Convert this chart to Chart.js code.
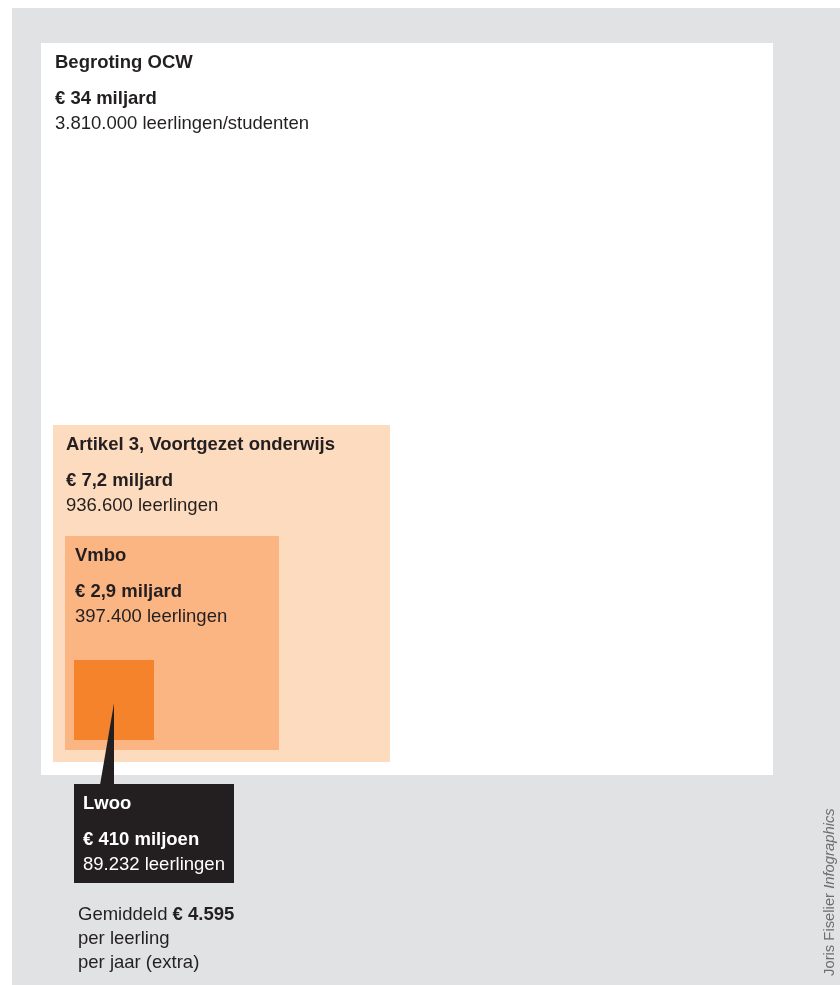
<!DOCTYPE html>
<html lang="nl">
<head>
<meta charset="utf-8">
<title>Begroting OCW - Lwoo</title>
<script src="https://cdn.jsdelivr.net/npm/chart.js@4.4.1/dist/chart.umd.min.js"></script>
<style>
    html, body { margin: 0; padding: 0; background: #ffffff; }
    #wrap { width: 840px; height: 985px; }
</style>
</head>
<body>
<div id="wrap"><canvas id="grafiekOCW" width="840" height="985"></canvas></div>
<script>
// gegevens (bedragen in miljard euro)
const categorieen = ['Begroting OCW', 'Artikel 3, Voortgezet onderwijs', 'Vmbo', 'Lwoo'];
const budgetMiljard = [34, 7.2, 2.9, 0.41];
const budgetLabels = ['€ 34 miljard', '€ 7,2 miljard', '€ 2,9 miljard', '€ 410 miljoen'];
const leerlingenLabels = ['3.810.000 leerlingen/studenten', '936.600 leerlingen', '397.400 leerlingen', '89.232 leerlingen'];
const gemiddeldLabel = ['Gemiddeld ', '€ 4.595'];
const gemiddeldRegels = ['per leerling', 'per jaar (extra)'];
const bronLabel = ['Joris Fiselier ', 'Infographics'];

// opmaak
const kleuren = ['#ffffff', '#fddbbe', '#fbb583', '#f5832b'];
const insetX = [0, 12, 12, 9];
const insetY = [0, 13, 12, 10];
const tekstX = [14, 13, 10, 9];
const tekstKleur = '#231f20';
const grijs = '#e1e2e4';
const FONT = '"Liberation Sans", Arial, sans-serif';
const GROOT = '18.5px ';

// vierkanten tekenen via de schalen van Chart.js (zijde = wortel van bedrag)
const vierkantenPlugin = {
    id: 'vierkanten',
    beforeDraw(chart) {
        const ctx = chart.ctx;
        ctx.save();
        ctx.fillStyle = grijs;
        ctx.fillRect(12, 8, chart.width - 12, chart.height - 8);
        ctx.restore();
    },
    afterDatasetsDraw(chart) {
        const ctx = chart.ctx;
        const sx = chart.scales.x;
        const sy = chart.scales.y;
        const area = chart.chartArea;
        let links = Math.round(area.left);
        let onder = Math.round(area.bottom);
        const rects = [];

        ctx.save();
        budgetMiljard.forEach((v, i) => {
            links += insetX[i];
            onder -= insetY[i];
            const b = Math.round(sx.getPixelForValue(Math.sqrt(v)) - sx.getPixelForValue(0));
            const h = Math.round(sy.getPixelForValue(0) - sy.getPixelForValue(Math.sqrt(v)));
            ctx.fillStyle = kleuren[i];
            ctx.fillRect(links, onder - h, b, h);
            rects.push({ x: links, y: onder - h, w: b, h: h });
        });

        // teksten in de eerste drie vierkanten
        ctx.fillStyle = tekstKleur;
        ctx.textBaseline = 'alphabetic';
        for (let i = 0; i < 3; i++) {
            const r = rects[i];
            ctx.font = 'bold ' + GROOT + FONT;
            ctx.fillText(categorieen[i], r.x + tekstX[i], r.y + 25);
            ctx.fillText(budgetLabels[i], r.x + tekstX[i], r.y + 61);
            ctx.font = GROOT + FONT;
            ctx.fillText(leerlingenLabels[i], r.x + tekstX[i], r.y + 86);
        }

        // zwart label voor Lwoo met aanwijzer
        const lw = rects[3];
        const kader = { x: lw.x, y: Math.round(area.bottom) + 9, w: 160, h: 99 };
        ctx.fillStyle = tekstKleur;
        ctx.beginPath();
        ctx.moveTo(lw.x + lw.w / 2, lw.y + lw.h * 0.54);
        ctx.lineTo(lw.x + lw.w / 2, kader.y + 1);
        ctx.lineTo(lw.x + lw.w / 2 - 14, kader.y + 1);
        ctx.closePath();
        ctx.fill();
        ctx.fillRect(kader.x, kader.y, kader.w, kader.h);

        ctx.fillStyle = '#ffffff';
        ctx.font = 'bold ' + GROOT + FONT;
        ctx.fillText(categorieen[3], kader.x + tekstX[3], kader.y + 25);
        ctx.fillText(budgetLabels[3], kader.x + tekstX[3], kader.y + 61);
        ctx.font = GROOT + FONT;
        ctx.fillText(leerlingenLabels[3], kader.x + tekstX[3], kader.y + 86);

        // gemiddelde per leerling
        const gx = kader.x + 4;
        const gy = kader.y + kader.h;
        ctx.fillStyle = tekstKleur;
        ctx.font = GROOT + FONT;
        ctx.fillText(gemiddeldLabel[0], gx, gy + 37);
        const w0 = ctx.measureText(gemiddeldLabel[0]).width;
        ctx.font = 'bold ' + GROOT + FONT;
        ctx.fillText(gemiddeldLabel[1], gx + w0, gy + 37);
        ctx.font = GROOT + FONT;
        ctx.fillText(gemiddeldRegels[0], gx, gy + 61);
        ctx.fillText(gemiddeldRegels[1], gx, gy + 85);

        // bron, verticaal
        ctx.translate(834, 976);
        ctx.rotate(-Math.PI / 2);
        ctx.fillStyle = '#6d6e70';
        ctx.font = '14.8px ' + FONT;
        ctx.fillText(bronLabel[0], 0, 0);
        const wb = ctx.measureText(bronLabel[0]).width;
        ctx.font = 'italic 14.8px ' + FONT;
        ctx.fillText(bronLabel[1], wb, 0);
        ctx.restore();
    }
};

const ctx = document.getElementById('grafiekOCW').getContext('2d');
const zijde = Math.sqrt(budgetMiljard[0]);

new Chart(ctx, {
    type: 'scatter',
    data: {
        datasets: [{
            label: 'Budget',
            data: budgetMiljard.map(v => ({ x: Math.sqrt(v), y: Math.sqrt(v) })),
            pointRadius: 0,
            pointHoverRadius: 0
        }]
    },
    options: {
        responsive: false,
        animation: false,
        layout: { padding: { left: 41, top: 43, right: 67, bottom: 210 } },
        plugins: { legend: { display: false }, tooltip: { enabled: false } },
        scales: {
            x: { type: 'linear', min: 0, max: zijde, display: false },
            y: { type: 'linear', min: 0, max: zijde, display: false }
        }
    },
    plugins: [vierkantenPlugin]
});
</script>
</body>
</html>
